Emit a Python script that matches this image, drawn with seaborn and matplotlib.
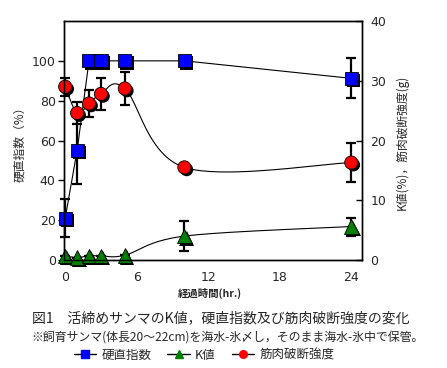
import numpy as np
import pandas as pd
import matplotlib
matplotlib.use("Agg")
import matplotlib.pyplot as plt
import matplotlib.patheffects as pe
from matplotlib.lines import Line2D
import seaborn as sns

# 経過時間 (hr)
hours = [0, 1, 2, 3, 5, 10, 24]
# 硬直指数 (%) - left axis
rigor = [21, 55, 100, 100, 100, 100, 91.2]
rigor_err = [9.5, 17, 0, 0, 0, 0, 10]
# K値 (%) - right axis
k_value = [0.7, 0.4, 0.7, 0.7, 0.8, 4.0, 5.6]
k_err = [0, 0, 0, 0, 0, 2.5, 1.5]
# 筋肉破断強度 (g) - right axis
strength = [29.0, 24.6, 26.2, 27.8, 28.7, 15.5, 16.3]
strength_err = [1.5, 1.9, 2.2, 2.7, 2.7, 0, 3.2]

left_ticks = [0, 20, 40, 60, 80, 100]
right_ticks = [0, 10, 20, 30, 40]
x_ticks = [0, 6, 12, 18, 24]


def smooth(x, y, n=40):
    # Excel-like smoothed line (Catmull-Rom bezier)
    p = np.column_stack([x, y]).astype(float)
    p = np.vstack([p[0], p, p[-1]])
    out = []
    for i in range(1, len(p) - 2):
        p0, p1, p2, p3 = p[i - 1], p[i], p[i + 1], p[i + 2]
        c1 = p1 + (p2 - p0) / 6
        c2 = p2 - (p3 - p1) / 6
        t = np.linspace(0, 1, n)[:, None]
        seg = (1 - t) ** 3 * p1 + 3 * (1 - t) ** 2 * t * c1 + 3 * (1 - t) * t ** 2 * c2 + t ** 3 * p2
        out.append(seg)
    out = np.vstack(out)
    return pd.DataFrame({"x": out[:, 0], "y": out[:, 1]})


sns.set_style("white")
plt.rcParams['font.family'] = ['Noto Sans CJK JP', 'DejaVu Sans']

fig = plt.figure(figsize=(4.47, 3.68), dpi=100)
ax = fig.add_axes([64 / 447, 1 - 260 / 368, 298 / 447, 239 / 368])
ax2 = ax.twinx()

shadow = [pe.SimplePatchShadow(offset=(1.6, -1.6), shadow_rgbFace='black', alpha=1.0), pe.Normal()]

df = pd.DataFrame({"hours": hours, "rigor": rigor, "k": k_value, "strength": strength})

# 硬直指数
sns.lineplot(data=df, x="hours", y="rigor", ax=ax, color='black', lw=0.8, sort=False)
ax.errorbar(hours, rigor, yerr=rigor_err, fmt='none', ecolor='black', elinewidth=1.6,
            capsize=3.5, capthick=1.6, clip_on=False)
ax.plot(hours, rigor, ls='none', marker='s', ms=9.5, mfc='#0000ff', mec='black', mew=0.6,
        path_effects=shadow, clip_on=False)

# K値 and 筋肉破断強度
sns.lineplot(data=smooth(hours, k_value), x="x", y="y", ax=ax2, color='black', lw=0.8, sort=False)
sns.lineplot(data=smooth(hours, strength), x="x", y="y", ax=ax2, color='black', lw=0.8, sort=False)
ax2.errorbar(hours, k_value, yerr=k_err, fmt='none', ecolor='black', elinewidth=1.6,
             capsize=3.5, capthick=1.6, clip_on=False)
ax2.errorbar(hours, strength, yerr=strength_err, fmt='none', ecolor='black', elinewidth=1.6,
             capsize=3.5, capthick=1.6, clip_on=False)
ax2.plot(hours, k_value, ls='none', marker='^', ms=10.5, mfc='#008000', mec='black', mew=0.6,
         path_effects=shadow, clip_on=False)
ax2.plot(hours, strength, ls='none', marker='o', ms=9.5, mfc='#ff0000', mec='black', mew=0.6,
         path_effects=shadow, clip_on=False)

ax.set_xlim(-0.1, 24.9)
ax.set_ylim(0, 120)
ax2.set_ylim(0, 40)
ax.set_xticks(x_ticks)
ax.set_yticks(left_ticks)
ax2.set_yticks(right_ticks)
ax.set_xlabel("")
ax.set_ylabel("")
ax2.set_xlabel("")
ax2.set_ylabel("")

tick_font = ['Liberation Sans Narrow', 'DejaVu Sans']
ax.tick_params(axis='y', direction='out', length=4, width=1, pad=2, labelsize=9, color='black')
ax.tick_params(axis='x', direction='in', length=4, width=1, pad=8, labelsize=9, color='black')
ax2.tick_params(axis='y', direction='in', length=4, width=1, pad=6, labelsize=9, color='black')
for lab in ax.get_xticklabels() + ax.get_yticklabels() + ax2.get_yticklabels():
    lab.set_family(tick_font)

for a in (ax, ax2):
    for s in a.spines.values():
        s.set_color('black')
        s.set_linewidth(1.0)

fig.text(20 / 447, 1 - 141 / 368, "硬直指数（%）", rotation=90, ha='center', va='center', fontsize=8.5)
fig.text(402 / 447, 1 - 142 / 368, "K値(%)，筋肉破断強度(g)", rotation=90, ha='center', va='center',
         fontsize=8.5)
fig.text(210 / 447, 1 - 293 / 368, "経過時間(hr.)", ha='center', va='center', fontsize=7.5,
         fontweight='bold')
fig.text(221 / 447, 1 - 318 / 368, "図1　活締めサンマのK値，硬直指数及び筋肉破断強度の変化",
         ha='center', va='center', fontsize=10)
fig.text(228 / 447, 1 - 337 / 368, "※飼育サンマ(体長20～22cm)を海水-氷〆し，そのまま海水-氷中で保管。",
         ha='center', va='center', fontsize=8.6)

handles = [
    Line2D([], [], color='black', lw=1, marker='s', ms=5.5, mfc='#0000ff', mec='#0000ff'),
    Line2D([], [], color='black', lw=1, marker='^', ms=6, mfc='#008000', mec='#008000'),
    Line2D([], [], color='black', lw=1, marker='o', ms=5.5, mfc='#ff0000', mec='#ff0000'),
]
fig.legend(handles, ["硬直指数", "K値", "筋肉破断強度"], loc='center', bbox_to_anchor=(204 / 447, 1 - 355 / 368),
           ncol=3, frameon=False, fontsize=9, handlelength=1.8, handletextpad=0.4, columnspacing=1.3,
           borderpad=0)

fig.savefig("out.png", dpi=100)
